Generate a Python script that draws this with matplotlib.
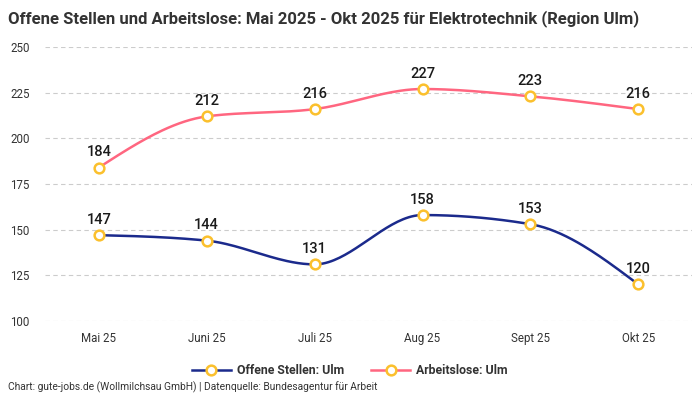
import matplotlib
matplotlib.use("Agg")
import matplotlib.pyplot as plt
import numpy as np

plt.rcParams['font.family'] = ['Roboto', 'DejaVu Sans']

# data
months = ["Mai 25", "Juni 25", "Juli 25", "Aug 25", "Sept 25", "Okt 25"]
offene_stellen = [147, 144, 131, 158, 153, 120]
arbeitslose = [184, 212, 216, 227, 223, 216]
y_ticks = [100, 125, 150, 175, 200, 225, 250]

BLUE = "#1b2a8c"
PINK = "#ff6680"
GOLD = "#fbc02d"


def monotone_curve(y, n=40):
    """monotone cubic (like d3 curveMonotoneX), x spacing 1"""
    y = np.asarray(y, dtype=float)
    k = len(y)
    s = np.diff(y)
    t = np.zeros(k)
    for i in range(1, k - 1):
        s0, s1 = s[i - 1], s[i]
        p = (s0 + s1) / 2
        t[i] = (np.sign(s0) + np.sign(s1)) * min(abs(s0), abs(s1), 0.5 * abs(p))
    t[0] = (3 * s[0] - t[1]) / 2
    t[-1] = (3 * s[-1] - t[-2]) / 2
    xs, ys = [], []
    for i in range(k - 1):
        u = np.linspace(0, 1, n)
        h00 = 2 * u**3 - 3 * u**2 + 1
        h10 = u**3 - 2 * u**2 + u
        h01 = -2 * u**3 + 3 * u**2
        h11 = u**3 - u**2
        xs.append(i + u)
        ys.append(h00 * y[i] + h10 * t[i] + h01 * y[i + 1] + h11 * t[i + 1])
    return np.concatenate(xs), np.concatenate(ys)


fig = plt.figure(figsize=(7, 4), dpi=100)
ax = fig.add_axes([0.064, 0.1975, 0.925, 0.685])

x = np.arange(len(months))
for vals, col, name in [(offene_stellen, BLUE, "Offene Stellen: Ulm"),
                        (arbeitslose, PINK, "Arbeitslose: Ulm")]:
    cx, cy = monotone_curve(vals)
    ax.plot(cx, cy, color=col, lw=1.8, zorder=2)
    ax.plot(x, vals, ls="none", marker="o", ms=7, mfc="white", mec=GOLD, mew=1.8, zorder=3)
    ax.plot([], [], color=col, lw=1.8, marker="o", ms=7, mfc="white", mec=GOLD, mew=1.8, label=name)
    for xi, v in zip(x, vals):
        ax.annotate(str(v), (xi, v), xytext=(0, 6), textcoords="offset points",
                    ha="center", va="bottom", fontsize=10.5, fontweight="medium", color="#1a1a1a")

ax.set_xlim(-0.5, 5.5)
ax.set_ylim(100, 250)
ax.set_xticks(x)
ax.set_xticklabels(months)
ax.set_yticks(y_ticks)
ax.grid(axis="y", color="#cccccc", ls=(0, (4, 3)), lw=0.8)
ax.set_axisbelow(True)
for sp in ax.spines.values():
    sp.set_visible(False)
ax.tick_params(length=0, labelsize=8.3, colors="#333333")
ax.tick_params(axis="x", pad=8)
ax.tick_params(axis="y", pad=11)

fig.text(0.011, 0.975, "Offene Stellen und Arbeitslose: Mai 2025 - Okt 2025 für Elektrotechnik (Region Ulm)",
         ha="left", va="top", fontsize=12, fontweight="bold", color="#333333")
fig.text(0.011, 0.018, "Chart: gute-jobs.de (Wollmilchsau GmbH) | Datenquelle: Bundesagentur für Arbeit",
         ha="left", va="bottom", fontsize=7.4, color="#333333")

leg = fig.legend(loc="center", bbox_to_anchor=(0.5, 0.073), ncol=2, frameon=False,
                 fontsize=8.8, handlelength=3.2, columnspacing=2.2, handletextpad=0.5)
for t in leg.get_texts():
    t.set_fontweight("bold")
    t.set_color("#333333")

fig.savefig("out.png", dpi=100)
